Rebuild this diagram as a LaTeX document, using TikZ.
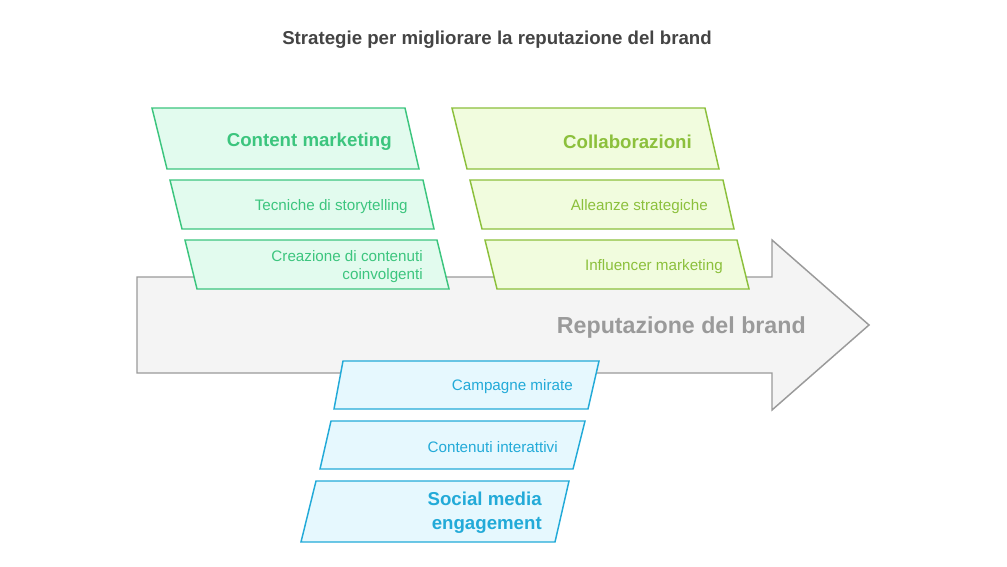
\documentclass[tikz,border=0pt]{standalone}
\usepackage{fontspec}
\setmainfont{Liberation Sans}
\usepackage{tikz}
\definecolor{cmline}{HTML}{3CC57E}
\definecolor{cmfill}{HTML}{E2FBEE}
\definecolor{coline}{HTML}{8CC03C}
\definecolor{cofill}{HTML}{F1FCDE}
\definecolor{smline}{HTML}{22AAD8}
\definecolor{smfill}{HTML}{E6F8FE}
\definecolor{arrline}{HTML}{9A9A9A}
\definecolor{arrfill}{HTML}{F4F4F4}
\definecolor{titlecol}{HTML}{444444}
\tikzset{
  cmbox/.style={draw=cmline, fill=cmfill, line width=1.1pt},
  cobox/.style={draw=coline, fill=cofill, line width=1.1pt},
  smbox/.style={draw=smline, fill=smfill, line width=1.1pt},
  head/.style={anchor=east, inner sep=0pt, font=\bfseries\fontsize{14}{18}\selectfont, align=right},
  item/.style={anchor=east, inner sep=0pt, font=\fontsize{11.4}{13.5}\selectfont, align=right}
}

\begin{document}
\begin{tikzpicture}[x=0.75pt, y=-0.75pt]
\useasboundingbox (0,0) rectangle (1007,567);

\node[font=\bfseries\fontsize{14}{17}\selectfont, text=titlecol] (title) at (497,40) {Strategie per migliorare la reputazione del brand};

% arrow
\draw[fill=arrfill, draw=arrline, line width=1.1pt]
(137,277) -- (772,277) -- (772,240) -- (869,325) -- (772,410) -- (772,373) -- (137,373) -- cycle;
\node[anchor=east, inner sep=0pt, font=\bfseries\fontsize{17.4}{20}\selectfont, text=arrline] (brand) at (806,327) {Reputazione del brand};

% Content marketing
\draw[cmbox] (152,108) -- (405,108) -- (419,169) -- (167,169) -- cycle;
\node[head, text=cmline] (cm) at (392,142) {Content marketing};
\draw[cmbox] (170,180) -- (423,180) -- (434,229) -- (182,229) -- cycle;
\node[item, text=cmline] (cm1) at (408,207) {Tecniche di storytelling};
\draw[cmbox] (185,240) -- (437,240) -- (449,289) -- (197,289) -- cycle;
\node[item, text=cmline] (cm2) at (423,267) {Creazione di contenuti\\coinvolgenti};

% Collaborazioni
\draw[cobox] (452,108) -- (705,108) -- (719,169) -- (467,169) -- cycle;
\node[head, text=coline] (co) at (692,142) {Collaborazioni};
\draw[cobox] (470,180) -- (723,180) -- (734,229) -- (482,229) -- cycle;
\node[item, text=coline] (co1) at (708,207) {Alleanze strategiche};
\draw[cobox] (485,240) -- (737,240) -- (749,289) -- (497,289) -- cycle;
\node[item, text=coline] (co2) at (723,267) {Influencer marketing};

% Social media engagement
\draw[smbox] (343,361) -- (599,361) -- (588,409) -- (334,409) -- cycle;
\node[item, text=smline] (sm1) at (573,387) {Campagne mirate};
\draw[smbox] (331,421) -- (585,421) -- (573,469) -- (320,469) -- cycle;
\node[item, text=smline] (sm2) at (558,447) {Contenuti interattivi};
\draw[smbox] (316,481) -- (569,481) -- (555,542) -- (301,542) -- cycle;
\node[head, text=smline] (sm) at (542,513) {Social media\\engagement};
\end{tikzpicture}
\end{document}
